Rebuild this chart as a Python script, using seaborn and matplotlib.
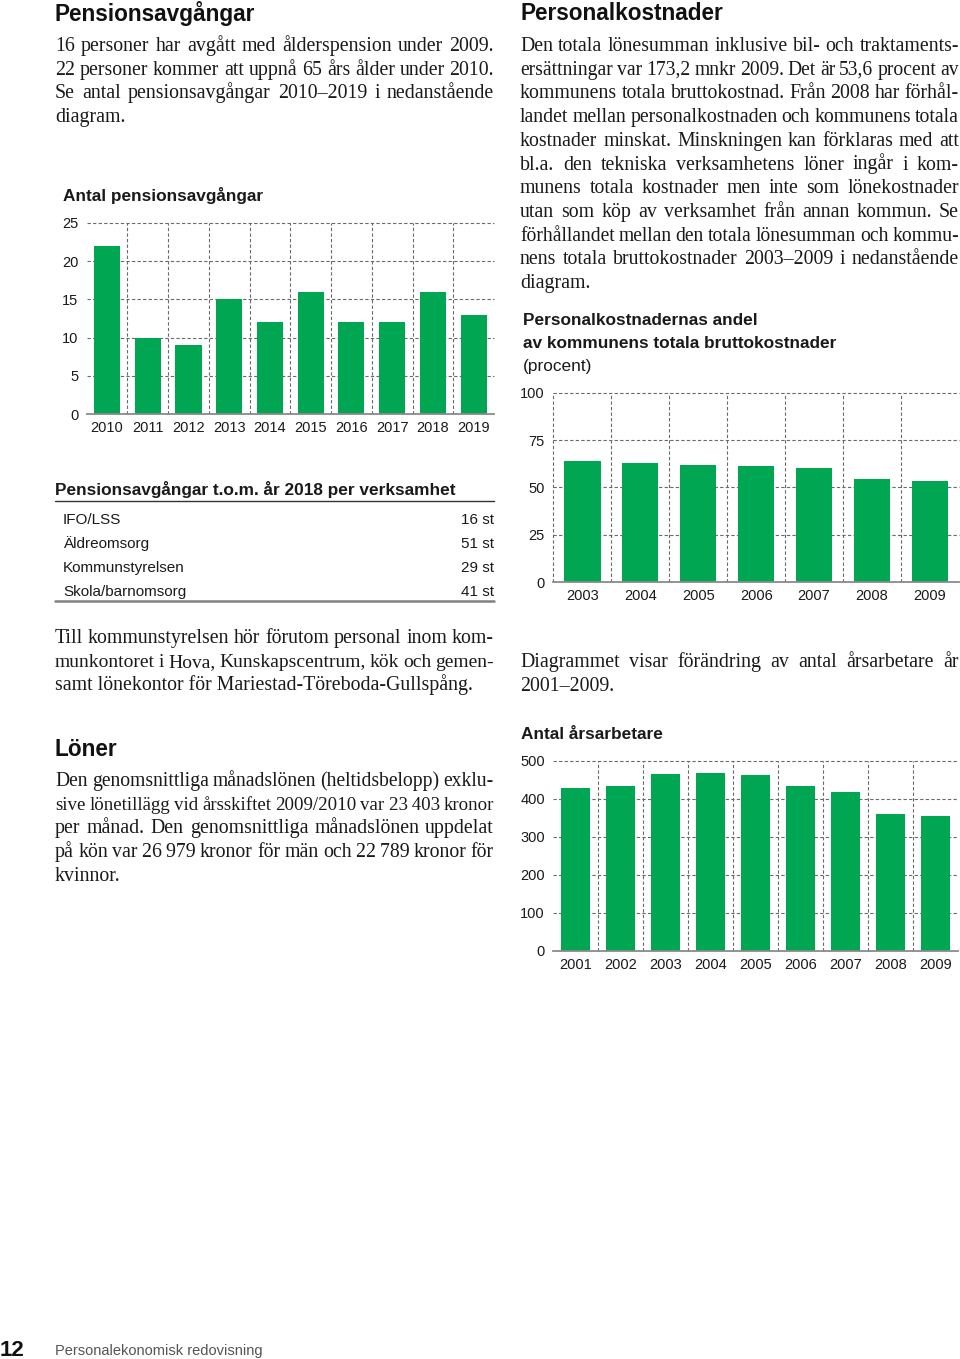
import matplotlib
matplotlib.use('Agg')
import matplotlib.pyplot as plt
import seaborn as sns
import pandas as pd
from matplotlib.lines import Line2D

# ---------------- data ----------------
pension_years = ['2010', '2011', '2012', '2013', '2014', '2015', '2016', '2017', '2018', '2019']
pension_values = [22, 10, 9, 15, 12, 16, 12, 12, 16, 13]

cost_years = ['2003', '2004', '2005', '2006', '2007', '2008', '2009']
cost_share = [63.8, 62.9, 61.7, 61.3, 60.3, 54.3, 53.6]

fte_years = ['2001', '2002', '2003', '2004', '2005', '2006', '2007', '2008', '2009']
fte_values = [427, 434, 465, 468, 462, 433, 418, 361, 355]

table_units = ['IFO/LSS', 'Äldreomsorg', 'Kommunstyrelsen', 'Skola/barnomsorg']
table_counts = [16, 51, 29, 41]

# ---------------- setup ----------------
W, H = 960, 1359
sns.set_theme(style='white')
plt.rcParams['font.family'] = ['Liberation Sans', 'DejaVu Sans']

fig = plt.figure(figsize=(9.6, 13.59), dpi=100)
fig.patch.set_facecolor('white')

GREEN = '#00a651'
GRID = '#6a6a6a'
TEXT = '#1a1a1a'
SERIF = ['Liberation Serif', 'DejaVu Serif']
SANS = ['Liberation Sans', 'DejaVu Sans']
BODY = 14.3
TITLE = 12.4


def fx(x):
    return x / W


def fy(y):
    return 1 - y / H


def add_ax(left, top, right, bottom):
    return fig.add_axes([fx(left), fy(bottom), (right - left) / W, (bottom - top) / H])


def bar_chart(ax, cats, vals, ymax, step, width, vlines, fs):
    df = pd.DataFrame({'cat': cats, 'val': vals})
    sns.barplot(data=df, x='cat', y='val', color=GREEN, saturation=1,
                width=width, ax=ax, edgecolor='none', zorder=3)
    n = len(cats)
    ax.set_xlim(-0.5, n - 0.5)
    ax.set_ylim(0, ymax)
    ticks = list(range(0, ymax + 1, step))
    ax.set_yticks(ticks)
    ax.set_yticklabels([str(t) for t in ticks])
    for t in ticks[1:]:
        ax.axhline(t, color=GRID, lw=0.8, ls=(0, (3, 2)), zorder=1, clip_on=False)
    for xv in vlines:
        ax.axvline(xv, color=GRID, lw=0.8, ls=(0, (3, 2)), zorder=1, clip_on=False)
    for s in ['top', 'right', 'left']:
        ax.spines[s].set_visible(False)
    ax.spines['bottom'].set_color('#8a8a8a')
    ax.spines['bottom'].set_linewidth(1.3)
    ax.spines['bottom'].set_zorder(4)
    ax.tick_params(axis='both', length=0, labelsize=fs, labelcolor=TEXT)
    ax.tick_params(axis='x', pad=5)
    ax.tick_params(axis='y', pad=6)
    ax.set_xlabel('')
    ax.set_ylabel('')
    ax.set_facecolor('none')
    ax.grid(False)


renderer = fig.canvas.get_renderer()


def para(lines, x0, x1, y0, step=23.7, size=BODY, min_gap=3.8):
    for i, line in enumerate(lines):
        y = y0 + i * step
        if i == len(lines) - 1:
            fig.text(fx(x0), fy(y), line, fontsize=size, family=SERIF, color=TEXT,
                     va='baseline', ha='left')
            continue
        words = line.split(' ')
        s = size
        while True:
            objs = [fig.text(0, fy(y), w, fontsize=s, family=SERIF, color=TEXT,
                             va='baseline', ha='left') for w in words]
            widths = [o.get_window_extent(renderer).width for o in objs]
            gap = (x1 - x0 - sum(widths)) / (len(words) - 1)
            if gap >= min_gap or s < size - 2:
                break
            for o in objs:
                o.remove()
            s -= 0.1
        x = x0
        for o, w in zip(objs, widths):
            o.set_x(fx(x))
            x += w + gap


def heading(x, y, s, size=16.3):
    fig.text(fx(x), fy(y), s, fontsize=size, family=SANS, weight='bold', color='#111111',
             va='baseline', ha='left')


# ---------------- left column ----------------
heading(55, 20.5, 'Pensionsavgångar')
para(['16 personer har avgått med ålderspension under 2009.',
      '22 personer kommer att uppnå 65 års ålder under 2010.',
      'Se antal pensionsavgångar 2010–2019 i nedanstående',
      'diagram.'], 55, 494, 51)

fig.text(fx(63), fy(201), 'Antal pensionsavgångar', fontsize=TITLE, family=SANS,
         weight='bold', color=TEXT, va='baseline')
ax1 = add_ax(86.7, 222.7, 494, 414.3)
bar_chart(ax1, pension_years, pension_values, 25, 5, 0.64,
          [i + 0.5 for i in range(len(pension_years) - 1)], 10.5)

# table
fig.text(fx(55), fy(495), 'Pensionsavgångar t.o.m. år 2018 per verksamhet', fontsize=TITLE,
         family=SANS, weight='bold', color=TEXT, va='baseline')
fig.add_artist(Line2D([fx(55), fx(494)], [fy(501), fy(501)], color='#333333', lw=1.0))
for i, (u, c) in enumerate(zip(table_units, table_counts)):
    yb = 524 + i * 24
    fig.text(fx(63), fy(yb), u, fontsize=11, family=SANS, color=TEXT, va='baseline')
    fig.text(fx(494), fy(yb), f'{c} st', fontsize=11, family=SANS, color=TEXT,
             va='baseline', ha='right')
fig.add_artist(Line2D([fx(55), fx(494)], [fy(601), fy(601)], color='#808080', lw=1.8))

para(['Till kommunstyrelsen hör förutom personal inom kom-',
      'munkontoret i Hova, Kunskapscentrum, kök och gemen-',
      'samt lönekontor för Mariestad-Töreboda-Gullspång.'], 55, 494, 643)

heading(55, 755.5, 'Löner')
para(['Den genomsnittliga månadslönen (heltidsbelopp) exklu-',
      'sive lönetillägg vid årsskiftet 2009/2010 var 23\u2009403 kronor',
      'per månad. Den genomsnittliga månadslönen uppdelat',
      'på kön var 26\u2009979 kronor för män och 22\u2009789 kronor för',
      'kvinnor.'], 55, 494, 786)

# ---------------- right column ----------------
heading(520, 20.5, 'Personalkostnader')
para(['Den totala lönesumman inklusive bil- och traktaments-',
      'ersättningar var 173,2 mnkr 2009. Det är 53,6 procent av',
      'kommunens totala bruttokostnad. Från 2008 har förhål-',
      'landet mellan personalkostnaden och kommunens totala',
      'kostnader minskat. Minskningen kan förklaras med att',
      'bl.a. den tekniska verksamhetens löner ingår i kom-',
      'munens totala kostnader men inte som lönekostnader',
      'utan som köp av verksamhet från annan kommun. Se',
      'förhållandet mellan den totala lönesumman och kommu-',
      'nens totala bruttokostnader 2003–2009 i nedanstående',
      'diagram.'], 520, 959, 51)

fig.text(fx(523), fy(325), 'Personalkostnadernas andel', fontsize=TITLE, family=SANS,
         weight='bold', color=TEXT, va='baseline')
fig.text(fx(523), fy(348), 'av kommunens totala bruttokostnader', fontsize=TITLE, family=SANS,
         weight='bold', color=TEXT, va='baseline')
fig.text(fx(523), fy(371), '(procent)', fontsize=TITLE, family=SANS, color=TEXT, va='baseline')
ax2 = add_ax(553.3, 392.7, 959, 582.3)
bar_chart(ax2, cost_years, cost_share, 100, 25, 0.63,
          [i - 0.5 for i in range(len(cost_years))], 10.5)

para(['Diagrammet visar förändring av antal årsarbetare år',
      '2001–2009.'], 520, 959, 667)

fig.text(fx(521), fy(739), 'Antal årsarbetare', fontsize=TITLE, family=SANS,
         weight='bold', color=TEXT, va='baseline')
ax3 = add_ax(553.3, 760.7, 957.8, 951)
bar_chart(ax3, fte_years, fte_values, 500, 100, 0.65,
          [i + 0.5 for i in range(len(fte_years) - 1)], 10.5)

# ---------------- footer ----------------
fig.text(fx(0), fy(1356), '12', fontsize=16, family=SANS, weight='bold', color='#111111',
         va='baseline')
fig.text(fx(55), fy(1355), 'Personalekonomisk redovisning', fontsize=10.5, family=SANS,
         color='#555555', va='baseline')

fig.savefig('out.png', dpi=100, facecolor='white')
